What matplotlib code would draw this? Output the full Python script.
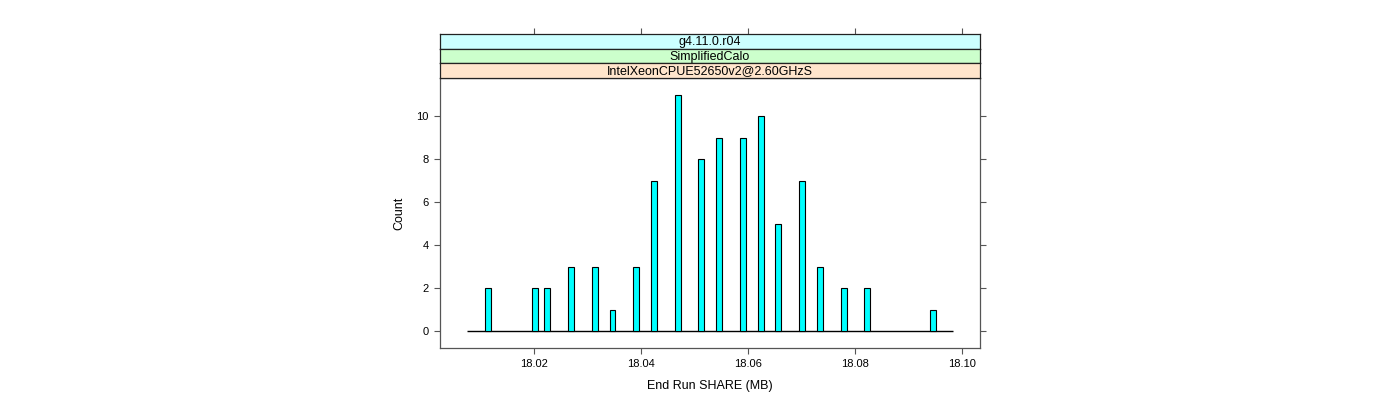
import matplotlib
matplotlib.use("Agg")
import matplotlib.pyplot as plt

plt.rcParams['font.family'] = ['Liberation Sans', 'DejaVu Sans']

# Histogram data (bin centers in MB, counts)
bin_centers = [18.01141, 18.02027, 18.02249, 18.02692, 18.03135, 18.03467,
               18.03910, 18.04243, 18.04686, 18.05129, 18.05461, 18.05904,
               18.06237, 18.06569, 18.07012, 18.07344, 18.07788, 18.08231,
               18.09449]
counts = [2, 2, 2, 3, 3, 1, 3, 7, 11, 8, 9, 9, 10, 5, 7, 3, 2, 2, 1]
bin_width = 0.0011078
hist_range = [18.00753, 18.09837]

x_ticks = [18.02, 18.04, 18.06, 18.08, 18.10]
x_ticklabels = ["18.02", "18.04", "18.06", "18.08", "18.10"]
y_ticks = [0, 2, 4, 6, 8, 10]
strip_labels = ["g4.11.0.r04", "SimplifiedCalo", "IntelXeonCPUE52650v2@2.60GHzS"]
strip_colors = ["#ccffff", "#ccffcc", "#ffe5cc"]

W, H = 1400, 400
fig = plt.figure(figsize=(14, 4), dpi=100)

px_l, px_r = 440, 980
px_top, px_bot = 78, 348
ax = fig.add_axes([px_l / W, 1 - px_bot / H, (px_r - px_l) / W, (px_bot - px_top) / H])

xlim = (18.00243, 18.10336)
ylim = (-0.77, 11.77)

ax.hlines(0, hist_range[0], hist_range[1], color="black", lw=1.0, zorder=2)
ax.bar(bin_centers, counts, width=bin_width, color="#00ffff",
       edgecolor="black", linewidth=0.8, zorder=3)
ax.set_xlim(*xlim)
ax.set_ylim(*ylim)

border_col = "#555555"
for s in ax.spines.values():
    s.set_color(border_col)
    s.set_linewidth(0.9)

ax.set_xticks(x_ticks)
ax.set_xticklabels(x_ticklabels)
ax.set_yticks(y_ticks)
ax.tick_params(axis="both", direction="out", length=4, width=0.8, color=border_col,
               labelsize=8, pad=4)
ax.tick_params(axis="y", right=True, labelright=False)
ax.tick_params(axis="x", top=False)
ax.set_xlabel("End Run SHARE (MB)", fontsize=9, labelpad=8)
ax.set_ylabel("Count", fontsize=9, labelpad=8)

# Strips
strip_top = 34
strip_h = (px_top - strip_top) / 3.0
for i, (lab, col) in enumerate(zip(strip_labels, strip_colors)):
    y0 = strip_top + i * strip_h
    sax = fig.add_axes([px_l / W, 1 - (y0 + strip_h) / H, (px_r - px_l) / W, strip_h / H])
    sax.set_facecolor(col)
    sax.set_xlim(*xlim)
    sax.set_ylim(0, 1)
    sax.text(0.5, 0.45, lab, transform=sax.transAxes, ha="center", va="center", fontsize=9)
    for s in sax.spines.values():
        s.set_color("#222222")
        s.set_linewidth(0.9)
    sax.set_yticks([])
    if i == 0:
        sax.set_xticks(x_ticks)
        sax.tick_params(axis="x", top=True, bottom=False, labeltop=False, labelbottom=False,
                        direction="out", length=4, width=0.8, color=border_col)
    else:
        sax.set_xticks([])

fig.savefig("out.png", dpi=100)
